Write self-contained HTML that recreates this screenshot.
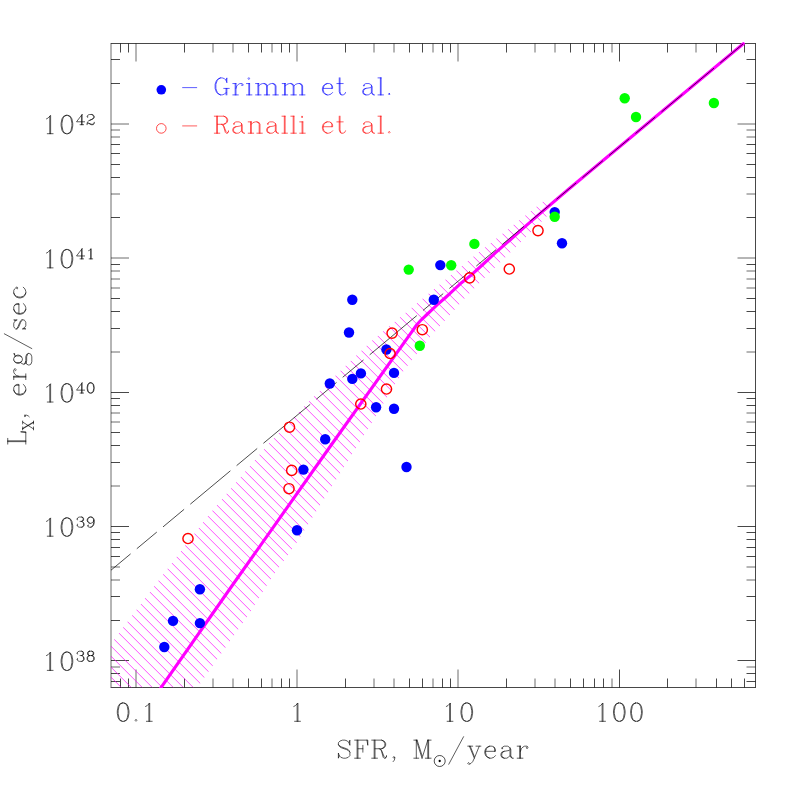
<!DOCTYPE html>
<html><head><meta charset="utf-8"><title>Lx-SFR relation</title>
<style>html,body{margin:0;padding:0;background:#fff;font-family:"Liberation Serif",serif}svg{display:block}</style></head>
<body>
<svg width="797" height="797" viewBox="0 0 797 797">
<rect width="797" height="797" fill="#fff"/>
<defs><clipPath id="fr"><rect x="111.0" y="43.5" width="644.5" height="644.0"/></clipPath>
<clipPath id="fr2"><rect x="111.0" y="0" width="644.5" height="687.9"/></clipPath>
<clipPath id="hz"><polygon points="111,643.8 114.4,639.3 149.8,592.1 207.5,516.5 269.1,443.2 310.1,400.3 351.3,360.2 372.5,340.3 467.9,261 543.4,201.3 549,206 546.6,216.4 521.5,241.5 485.1,277.2 464.7,298.3 430.4,336.7 417.3,353.3 403.8,370.6 395.5,383.4 372.2,421.9 340,473.4 312.6,517.2 296.6,542.8 271.1,578.6 247,617 200.2,683.5 197,687.5 111,687.5"/></clipPath></defs>
<path d="M110.7 43.5 H755.86M110.7 687.5 H755.86M755.5 43.5 V687.5M120.5 43.5 v9 M120.5 687.5 v-9M128.5 43.5 v9 M128.5 687.5 v-9M184.5 43.5 v9 M184.5 687.5 v-9M248.5 43.5 v9 M248.5 687.5 v-9M261.5 43.5 v9 M261.5 687.5 v-9M281.5 43.5 v9 M281.5 687.5 v-9M289.5 43.5 v9 M289.5 687.5 v-9M345.5 43.5 v9 M345.5 687.5 v-9M409.5 43.5 v9 M409.5 687.5 v-9M422.5 43.5 v9 M422.5 687.5 v-9M442.5 43.5 v9 M442.5 687.5 v-9M450.5 43.5 v9 M450.5 687.5 v-9M506.5 43.5 v9 M506.5 687.5 v-9M570.5 43.5 v9 M570.5 687.5 v-9M583.5 43.5 v9 M583.5 687.5 v-9M594.5 43.5 v9 M594.5 687.5 v-9M603.5 43.5 v9 M603.5 687.5 v-9M619.5 43.5 v18 M619.5 687.5 v-18M667.5 43.5 v9 M667.5 687.5 v-9M716.5 43.5 v9 M716.5 687.5 v-9M731.5 43.5 v9 M731.5 687.5 v-9M744.5 43.5 v9 M744.5 687.5 v-9M111.0 681.5 h9 M755.5 681.5 h-9M111.0 673.5 h9 M755.5 673.5 h-9M111.0 660.5 h18 M755.5 660.5 h-18M111.0 620.5 h9 M755.5 620.5 h-9M111.0 596.5 h9 M755.5 596.5 h-9M111.0 556.5 h9 M755.5 556.5 h-9M111.0 547.5 h9 M755.5 547.5 h-9M111.0 539.5 h9 M755.5 539.5 h-9M111.0 532.5 h9 M755.5 532.5 h-9M111.0 526.5 h18 M755.5 526.5 h-18M111.0 462.5 h9 M755.5 462.5 h-9M111.0 445.5 h9 M755.5 445.5 h-9M111.0 432.5 h9 M755.5 432.5 h-9M111.0 405.5 h9 M755.5 405.5 h-9M111.0 398.5 h9 M755.5 398.5 h-9M111.0 392.5 h18 M755.5 392.5 h-18M111.0 328.5 h9 M755.5 328.5 h-9M111.0 311.5 h9 M755.5 311.5 h-9M111.0 298.5 h9 M755.5 298.5 h-9M111.0 264.5 h9 M755.5 264.5 h-9M111.0 217.5 h9 M755.5 217.5 h-9M111.0 177.5 h9 M755.5 177.5 h-9M111.0 164.5 h9 M755.5 164.5 h-9M111.0 153.5 h9 M755.5 153.5 h-9M111.0 144.5 h9 M755.5 144.5 h-9M111.0 83.5 h9 M755.5 83.5 h-9M111.0 59.5 h9 M755.5 59.5 h-9" stroke="#000" stroke-width="0.72" fill="none"/>
<path d="M111.0 43.5 V687.5M136 43.5 v18 M136 687.5 v-18M213 43.5 v9 M213 687.5 v-9M233 43.5 v9 M233 687.5 v-9M272 43.5 v9 M272 687.5 v-9M297 43.5 v18 M297 687.5 v-18M374 43.5 v9 M374 687.5 v-9M394 43.5 v9 M394 687.5 v-9M433 43.5 v9 M433 687.5 v-9M458 43.5 v18 M458 687.5 v-18M535 43.5 v9 M535 687.5 v-9M555 43.5 v9 M555 687.5 v-9M612 43.5 v9 M612 687.5 v-9M696 43.5 v9 M696 687.5 v-9M111.0 667 h9 M755.5 667 h-9M111.0 580 h9 M755.5 580 h-9M111.0 567 h9 M755.5 567 h-9M111.0 486 h9 M755.5 486 h-9M111.0 422 h9 M755.5 422 h-9M111.0 413 h9 M755.5 413 h-9M111.0 352 h9 M755.5 352 h-9M111.0 288 h9 M755.5 288 h-9M111.0 279 h9 M755.5 279 h-9M111.0 271 h9 M755.5 271 h-9M111.0 258 h18 M755.5 258 h-18M111.0 194 h9 M755.5 194 h-9M111.0 137 h9 M755.5 137 h-9M111.0 130 h9 M755.5 130 h-9M111.0 124 h18 M755.5 124 h-18" stroke="#000" stroke-width="0.58" fill="none"/>
<g clip-path="url(#fr)"><path clip-path="url(#hz)" d="M100 697.18 L560 1157.18M100 686.18 L560 1146.18M100 676.18 L560 1136.18M100 666.18 L560 1126.18M100 656.18 L560 1116.18M100 645.18 L560 1105.18M100 635.18 L560 1095.18M100 625.18 L560 1085.18M100 614.18 L560 1074.18M100 604.18 L560 1064.18M100 594.18 L560 1054.18M100 583.18 L560 1043.18M100 573.18 L560 1033.18M100 563.18 L560 1023.18M100 553.18 L560 1013.18M100 542.18 L560 1002.18M100 532.18 L560 992.18M100 522.18 L560 982.18M100 511.18 L560 971.18M100 501.18 L560 961.18M100 491.18 L560 951.18M100 480.18 L560 940.18M100 470.18 L560 930.18M100 460.18 L560 920.18M100 450.18 L560 910.18M100 439.18 L560 899.18M100 429.18 L560 889.18M100 419.18 L560 879.18M100 408.18 L560 868.18M100 398.18 L560 858.18M100 388.18 L560 848.18M100 377.18 L560 837.18M100 367.18 L560 827.18M100 357.18 L560 817.18M100 346.18 L560 806.18M100 336.18 L560 796.18M100 326.18 L560 786.18M100 316.18 L560 776.18M100 305.18 L560 765.18M100 295.18 L560 755.18M100 285.18 L560 745.18M100 274.18 L560 734.18M100 264.18 L560 724.18M100 254.18 L560 714.18M100 243.18 L560 703.18M100 233.18 L560 693.18M100 223.18 L560 683.18M100 213.18 L560 673.18M100 202.18 L560 662.18M100 192.18 L560 652.18M100 182.18 L560 642.18M100 171.18 L560 631.18M100 161.18 L560 621.18M100 151.18 L560 611.18M100 140.18 L560 600.18M100 130.18 L560 590.18M100 120.18 L560 580.18M100 110.18 L560 570.18M100 99.18 L560 559.18M100 89.18 L560 549.18M100 79.18 L560 539.18M100 68.18 L560 528.18M100 58.18 L560 518.18M100 48.18 L560 508.18M100 37.18 L560 497.18M100 27.18 L560 487.18M100 17.18 L560 477.18M100 7.18 L560 467.18M100 -3.82 L560 456.18M100 -13.82 L560 446.18M100 -23.82 L560 436.18M100 -34.82 L560 425.18M100 -44.82 L560 415.18M100 -54.82 L560 405.18M100 -65.82 L560 394.18M100 -75.82 L560 384.18M100 -85.82 L560 374.18M100 -95.82 L560 364.18M100 -106.82 L560 353.18M100 -116.82 L560 343.18M100 -126.82 L560 333.18M100 -137.82 L560 322.18M100 -147.82 L560 312.18M100 -157.82 L560 302.18M100 -168.82 L560 291.18M100 -178.82 L560 281.18M100 -188.82 L560 271.18M100 -198.82 L560 261.18M100 -209.82 L560 250.18M100 -219.82 L560 240.18M100 -229.82 L560 230.18M100 -240.82 L560 219.18M100 -250.82 L560 209.18M100 -260.82 L560 199.18M100 -271.82 L560 188.18M100 -281.82 L560 178.18M100 -291.82 L560 168.18M100 -301.82 L560 158.18M100 -312.82 L560 147.18" stroke="#ff00ff" stroke-opacity="0.68" stroke-width="1" fill="none"/></g>
<g clip-path="url(#fr2)"><polyline points="154.33,697.2 229.05,590 334.4,440.5 410.7,333.4 414.5,328 417,324.5 421.3,319.8 426.4,315 432.6,309.1 438.9,303.2 445,298 449,294.3 461.5,282.7 470.3,275.8 482.8,264.5 495,253.2 510,240 525,226.7 540,213.6 555,200.7 570,188.04 743.35,43.71" fill="none" stroke="#ff00ff" stroke-width="3.1" stroke-linejoin="round" stroke-linecap="round"/><path d="M111 570.2 L130.6 553.88M136.8 548.72 L156.8 532.07M163 526.91 L184.1 509.34M190.3 504.18 L230.4 470.79M236.6 465.63 L257.2 448.48M263.4 443.31 L310.2 404.35M316.4 399.19 L336.5 382.45M342.7 377.29 L363.5 359.97M369.7 354.81 L416.8 315.59M423 310.43 L443.2 293.61M449.4 288.45 L470.1 271.22M476.3 266.05 L496.1 249.57M502.3 244.41 L523.9 226.42M530.1 221.26 L550.3 204.44M556.5 199.28 L576.2 182.88M582.4 177.72 L602.9 160.65M609.1 155.48 L629.3 138.67M635.5 133.5 L655.3 117.02M661.5 111.86 L682.4 94.46M688.6 89.29 L714 68.14M720.2 62.98 L743.2 43.83" stroke="#000" stroke-width="0.7" fill="none"/></g>
<circle cx="164.3" cy="647" r="5.2" fill="#0000ff"/>
<circle cx="173" cy="620.9" r="5.2" fill="#0000ff"/>
<circle cx="199.9" cy="589.3" r="5.2" fill="#0000ff"/>
<circle cx="199.9" cy="623.1" r="5.2" fill="#0000ff"/>
<circle cx="297" cy="530.2" r="5.2" fill="#0000ff"/>
<circle cx="303.4" cy="469.6" r="5.2" fill="#0000ff"/>
<circle cx="325.2" cy="439.3" r="5.2" fill="#0000ff"/>
<circle cx="329.8" cy="383.5" r="5.2" fill="#0000ff"/>
<circle cx="349" cy="332.5" r="5.2" fill="#0000ff"/>
<circle cx="352.3" cy="299.7" r="5.2" fill="#0000ff"/>
<circle cx="352.3" cy="378.9" r="5.2" fill="#0000ff"/>
<circle cx="360.9" cy="373.4" r="5.2" fill="#0000ff"/>
<circle cx="376.1" cy="407.2" r="5.2" fill="#0000ff"/>
<circle cx="386.4" cy="349.5" r="5.2" fill="#0000ff"/>
<circle cx="394" cy="372.9" r="5.2" fill="#0000ff"/>
<circle cx="394" cy="408.7" r="5.2" fill="#0000ff"/>
<circle cx="406.5" cy="467" r="5.2" fill="#0000ff"/>
<circle cx="433.8" cy="299.7" r="5.2" fill="#0000ff"/>
<circle cx="440.3" cy="265.1" r="5.2" fill="#0000ff"/>
<circle cx="554.7" cy="212.1" r="5.2" fill="#0000ff"/>
<circle cx="562" cy="243.3" r="5.2" fill="#0000ff"/>
<circle cx="408.7" cy="269.6" r="5.2" fill="#00ff00"/>
<circle cx="419.8" cy="345.7" r="5.2" fill="#00ff00"/>
<circle cx="451.2" cy="265.3" r="5.2" fill="#00ff00"/>
<circle cx="474.4" cy="243.9" r="5.2" fill="#00ff00"/>
<circle cx="554.7" cy="216.8" r="5.2" fill="#00ff00"/>
<circle cx="624.7" cy="98.2" r="5.2" fill="#00ff00"/>
<circle cx="636" cy="117" r="5.2" fill="#00ff00"/>
<circle cx="713.9" cy="103" r="5.2" fill="#00ff00"/>
<circle cx="188" cy="538.5" r="5.1" fill="none" stroke="#ff0000" stroke-width="1.45"/>
<circle cx="289.5" cy="427.2" r="5.1" fill="none" stroke="#ff0000" stroke-width="1.45"/>
<circle cx="291.7" cy="470.4" r="5.1" fill="none" stroke="#ff0000" stroke-width="1.45"/>
<circle cx="289" cy="488.7" r="5.1" fill="none" stroke="#ff0000" stroke-width="1.45"/>
<circle cx="360.8" cy="404" r="5.1" fill="none" stroke="#ff0000" stroke-width="1.45"/>
<circle cx="386.5" cy="389" r="5.1" fill="none" stroke="#ff0000" stroke-width="1.45"/>
<circle cx="390.1" cy="353.5" r="5.1" fill="none" stroke="#ff0000" stroke-width="1.45"/>
<circle cx="392.1" cy="333.1" r="5.1" fill="none" stroke="#ff0000" stroke-width="1.45"/>
<circle cx="422.3" cy="329.7" r="5.1" fill="none" stroke="#ff0000" stroke-width="1.45"/>
<circle cx="469.6" cy="277.8" r="5.1" fill="none" stroke="#ff0000" stroke-width="1.45"/>
<circle cx="509.3" cy="269" r="5.1" fill="none" stroke="#ff0000" stroke-width="1.45"/>
<circle cx="538" cy="230.6" r="5.1" fill="none" stroke="#ff0000" stroke-width="1.45"/>
<path d="M122.3 702.99 119.81 703.86 118.15 706.48 117.32 710.84 117.32 713.45 118.15 717.81 119.81 720.43 122.3 721.3 123.96 721.3 126.45 720.43 128.11 717.81 128.94 713.45 128.94 710.84 128.11 706.48 126.45 703.86 123.96 702.99 122.3 702.99M122.3 702.99 120.64 703.86 119.81 704.73 118.98 706.48 118.15 710.84 118.15 713.45 118.98 717.81 119.81 719.56 120.64 720.43 122.3 721.3M123.96 721.3 125.62 720.43 126.45 719.56 127.28 717.81 128.11 713.45 128.11 710.84 127.28 706.48 126.45 704.73 125.62 703.86 123.96 702.99M136 719.56 135.17 720.43 136 721.3 136.83 720.43 136 719.56M145.55 706.48 147.21 705.6 149.7 702.99 149.7 721.3M148.87 703.86 148.87 721.3M146.38 721.3 152.19 721.3M293.78 706.48 295.44 705.6 297.93 702.99 297.93 721.3M297.1 703.86 297.1 721.3M294.61 721.3 300.42 721.3M446.3 706.48 447.96 705.6 450.45 702.99 450.45 721.3M449.62 703.86 449.62 721.3M447.13 721.3 452.94 721.3M465.95 702.99 463.46 703.86 461.8 706.48 460.97 710.84 460.97 713.45 461.8 717.81 463.46 720.43 465.95 721.3 467.61 721.3 470.1 720.43 471.76 717.81 472.59 713.45 472.59 710.84 471.76 706.48 470.1 703.86 467.61 702.99 465.95 702.99M465.95 702.99 464.29 703.86 463.46 704.73 462.63 706.48 461.8 710.84 461.8 713.45 462.63 717.81 463.46 719.56 464.29 720.43 465.95 721.3M467.61 721.3 469.27 720.43 470.1 719.56 470.93 717.81 471.76 713.45 471.76 710.84 470.93 706.48 470.1 704.73 469.27 703.86 467.61 702.99M598.82 706.48 600.48 705.6 602.97 702.99 602.97 721.3M602.14 703.86 602.14 721.3M599.65 721.3 605.46 721.3M618.47 702.99 615.98 703.86 614.32 706.48 613.49 710.84 613.49 713.45 614.32 717.81 615.98 720.43 618.47 721.3 620.13 721.3 622.62 720.43 624.28 717.81 625.11 713.45 625.11 710.84 624.28 706.48 622.62 703.86 620.13 702.99 618.47 702.99M618.47 702.99 616.81 703.86 615.98 704.73 615.15 706.48 614.32 710.84 614.32 713.45 615.15 717.81 615.98 719.56 616.81 720.43 618.47 721.3M620.13 721.3 621.79 720.43 622.62 719.56 623.45 717.81 624.28 713.45 624.28 710.84 623.45 706.48 622.62 704.73 621.79 703.86 620.13 702.99M635.63 702.99 633.14 703.86 631.48 706.48 630.65 710.84 630.65 713.45 631.48 717.81 633.14 720.43 635.63 721.3 637.29 721.3 639.78 720.43 641.44 717.81 642.27 713.45 642.27 710.84 641.44 706.48 639.78 703.86 637.29 702.99 635.63 702.99M635.63 702.99 633.97 703.86 633.14 704.73 632.31 706.48 631.48 710.84 631.48 713.45 632.31 717.81 633.14 719.56 633.97 720.43 635.63 721.3M637.29 721.3 638.95 720.43 639.78 719.56 640.61 717.81 641.44 713.45 641.44 710.84 640.61 706.48 639.78 704.73 638.95 703.86 637.29 702.99M46.45 655.56 48.12 654.68 50.61 652.07 50.61 670.38M49.77 652.94 49.77 670.38M47.28 670.38 53.09 670.38M66.11 652.07 63.62 652.94 61.95 655.56 61.12 659.92 61.12 662.53 61.95 666.89 63.62 669.51 66.11 670.38 67.77 670.38 70.25 669.51 71.92 666.89 72.75 662.53 72.75 659.92 71.92 655.56 70.25 652.94 67.77 652.07 66.11 652.07M66.11 652.07 64.45 652.94 63.62 653.81 62.79 655.56 61.95 659.92 61.95 662.53 62.79 666.89 63.62 668.64 64.45 669.51 66.11 670.38M67.77 670.38 69.42 669.51 70.25 668.64 71.09 666.89 71.92 662.53 71.92 659.92 71.09 655.56 70.25 653.81 69.42 652.94 67.77 652.07M77.53 653.13 78.04 653.62 77.53 654.11 77.03 653.62 77.03 653.13 77.53 652.16 78.04 651.68 79.56 651.2 81.58 651.2 83.09 651.68 83.59 652.65 83.59 654.11 83.09 655.08 81.58 655.56 80.06 655.56M81.58 651.2 82.59 651.68 83.09 652.65 83.09 654.11 82.59 655.08 81.58 655.56M81.58 655.56 82.59 656.04 83.59 657.01 84.1 657.99 84.1 659.44 83.59 660.41 83.09 660.89 81.58 661.38 79.56 661.38 78.04 660.89 77.53 660.41 77.03 659.44 77.03 658.96 77.53 658.47 78.04 658.96 77.53 659.44M83.09 656.53 83.59 657.99 83.59 659.44 83.09 660.41 82.59 660.89 81.58 661.38M89.66 651.2 88.14 651.68 87.63 652.65 87.63 654.11 88.14 655.08 89.66 655.56 91.67 655.56 93.19 655.08 93.69 654.11 93.69 652.65 93.19 651.68 91.67 651.2 89.66 651.2M89.66 651.2 88.64 651.68 88.14 652.65 88.14 654.11 88.64 655.08 89.66 655.56M91.67 655.56 92.69 655.08 93.19 654.11 93.19 652.65 92.69 651.68 91.67 651.2M89.66 655.56 88.14 656.04 87.63 656.53 87.13 657.5 87.13 659.44 87.63 660.41 88.14 660.89 89.66 661.38 91.67 661.38 93.19 660.89 93.69 660.41 94.2 659.44 94.2 657.5 93.69 656.53 93.19 656.04 91.67 655.56M89.66 655.56 88.64 656.04 88.14 656.53 87.63 657.5 87.63 659.44 88.14 660.41 88.64 660.89 89.66 661.38M91.67 661.38 92.69 660.89 93.19 660.41 93.69 659.44 93.69 657.5 93.19 656.53 92.69 656.04 91.67 655.56M46.45 521.39 48.12 520.51 50.61 517.9 50.61 536.21M49.77 518.77 49.77 536.21M47.28 536.21 53.09 536.21M66.11 517.9 63.62 518.77 61.95 521.39 61.12 525.75 61.12 528.36 61.95 532.72 63.62 535.34 66.11 536.21 67.77 536.21 70.25 535.34 71.92 532.72 72.75 528.36 72.75 525.75 71.92 521.39 70.25 518.77 67.77 517.9 66.11 517.9M66.11 517.9 64.45 518.77 63.62 519.64 62.79 521.39 61.95 525.75 61.95 528.36 62.79 532.72 63.62 534.47 64.45 535.34 66.11 536.21M67.77 536.21 69.42 535.34 70.25 534.47 71.09 532.72 71.92 528.36 71.92 525.75 71.09 521.39 70.25 519.64 69.42 518.77 67.77 517.9M77.53 518.97 78.04 519.45 77.53 519.94 77.03 519.45 77.03 518.97 77.53 518 78.04 517.51 79.56 517.03 81.58 517.03 83.09 517.51 83.59 518.48 83.59 519.94 83.09 520.91 81.58 521.39 80.06 521.39M81.58 517.03 82.59 517.51 83.09 518.48 83.09 519.94 82.59 520.91 81.58 521.39M81.58 521.39 82.59 521.88 83.59 522.85 84.1 523.82 84.1 525.27 83.59 526.24 83.09 526.73 81.58 527.21 79.56 527.21 78.04 526.73 77.53 526.24 77.03 525.27 77.03 524.79 77.53 524.3 78.04 524.79 77.53 525.27M83.09 522.36 83.59 523.82 83.59 525.27 83.09 526.24 82.59 526.73 81.58 527.21M93.69 520.42 93.19 521.88 92.18 522.85 90.66 523.33 90.16 523.33 88.64 522.85 87.63 521.88 87.13 520.42 87.13 519.94 87.63 518.48 88.64 517.51 90.16 517.03 91.17 517.03 92.69 517.51 93.69 518.48 94.2 519.94 94.2 522.85 93.69 524.79 93.19 525.75 92.18 526.73 90.66 527.21 89.15 527.21 88.14 526.73 87.63 525.75 87.63 525.27 88.14 524.79 88.64 525.27 88.14 525.75M90.16 523.33 89.15 522.85 88.14 521.88 87.63 520.42 87.63 519.94 88.14 518.48 89.15 517.51 90.16 517.03M91.17 517.03 92.18 517.51 93.19 518.48 93.69 519.94 93.69 522.85 93.19 524.79 92.69 525.75 91.67 526.73 90.66 527.21M46.45 387.22 48.12 386.34 50.61 383.73 50.61 402.04M49.77 384.6 49.77 402.04M47.28 402.04 53.09 402.04M66.11 383.73 63.62 384.6 61.95 387.22 61.12 391.58 61.12 394.19 61.95 398.55 63.62 401.17 66.11 402.04 67.77 402.04 70.25 401.17 71.92 398.55 72.75 394.19 72.75 391.58 71.92 387.22 70.25 384.6 67.77 383.73 66.11 383.73M66.11 383.73 64.45 384.6 63.62 385.47 62.79 387.22 61.95 391.58 61.95 394.19 62.79 398.55 63.62 400.3 64.45 401.17 66.11 402.04M67.77 402.04 69.42 401.17 70.25 400.3 71.09 398.55 71.92 394.19 71.92 391.58 71.09 387.22 70.25 385.47 69.42 384.6 67.77 383.73M81.58 383.82 81.58 393.04M82.08 382.85 82.08 393.04M82.08 382.85 76.53 390.13 84.61 390.13M80.06 393.04 83.59 393.04M90.16 382.85 88.64 383.34 87.63 384.79 87.13 387.22 87.13 388.67 87.63 391.1 88.64 392.55 90.16 393.04 91.17 393.04 92.69 392.55 93.69 391.1 94.2 388.67 94.2 387.22 93.69 384.79 92.69 383.34 91.17 382.85 90.16 382.85M90.16 382.85 89.15 383.34 88.64 383.82 88.14 384.79 87.63 387.22 87.63 388.67 88.14 391.1 88.64 392.07 89.15 392.55 90.16 393.04M91.17 393.04 92.18 392.55 92.69 392.07 93.19 391.1 93.69 388.67 93.69 387.22 93.19 384.79 92.69 383.82 92.18 383.34 91.17 382.85M46.45 253.05 48.12 252.17 50.61 249.56 50.61 267.87M49.77 250.43 49.77 267.87M47.28 267.87 53.09 267.87M66.11 249.56 63.62 250.43 61.95 253.05 61.12 257.41 61.12 260.02 61.95 264.38 63.62 267 66.11 267.87 67.77 267.87 70.25 267 71.92 264.38 72.75 260.02 72.75 257.41 71.92 253.05 70.25 250.43 67.77 249.56 66.11 249.56M66.11 249.56 64.45 250.43 63.62 251.3 62.79 253.05 61.95 257.41 61.95 260.02 62.79 264.38 63.62 266.13 64.45 267 66.11 267.87M67.77 267.87 69.42 267 70.25 266.13 71.09 264.38 71.92 260.02 71.92 257.41 71.09 253.05 70.25 251.3 69.42 250.43 67.77 249.56M81.58 249.65 81.58 258.87M82.08 248.68 82.08 258.87M82.08 248.68 76.53 255.96 84.61 255.96M80.06 258.87 83.59 258.87M88.64 250.62 89.66 250.14 91.17 248.68 91.17 258.87M90.66 249.17 90.66 258.87M89.15 258.87 92.69 258.87M46.45 118.88 48.12 118 50.61 115.39 50.61 133.7M49.77 116.26 49.77 133.7M47.28 133.7 53.09 133.7M66.11 115.39 63.62 116.26 61.95 118.88 61.12 123.24 61.12 125.85 61.95 130.21 63.62 132.83 66.11 133.7 67.77 133.7 70.25 132.83 71.92 130.21 72.75 125.85 72.75 123.24 71.92 118.88 70.25 116.26 67.77 115.39 66.11 115.39M66.11 115.39 64.45 116.26 63.62 117.13 62.79 118.88 61.95 123.24 61.95 125.85 62.79 130.21 63.62 131.96 64.45 132.83 66.11 133.7M67.77 133.7 69.42 132.83 70.25 131.96 71.09 130.21 71.92 125.85 71.92 123.24 71.09 118.88 70.25 117.13 69.42 116.26 67.77 115.39M81.58 115.48 81.58 124.7M82.08 114.51 82.08 124.7M82.08 114.51 76.53 121.79 84.61 121.79M80.06 124.7 83.59 124.7M87.63 116.45 88.14 116.94 87.63 117.42 87.13 116.94 87.13 116.45 87.63 115.48 88.14 115 89.66 114.51 91.67 114.51 93.19 115 93.69 115.48 94.2 116.45 94.2 117.42 93.69 118.39 92.18 119.36 89.66 120.33 88.64 120.82 87.63 121.79 87.13 123.24 87.13 124.7M91.67 114.51 92.69 115 93.19 115.48 93.69 116.45 93.69 117.42 93.19 118.39 91.67 119.36 89.66 120.33M87.13 123.73 87.63 123.24 88.64 123.24 91.17 124.21 92.69 124.21 93.69 123.73 94.2 123.24M88.64 123.24 91.17 124.7 93.19 124.7 93.69 124.21 94.2 123.24 94.2 122.27M349.06 742.72 349.88 740.14 349.88 745.3 349.06 742.72 347.41 741 344.95 740.14 342.49 740.14 340.03 741 338.38 742.72 338.38 744.44 339.2 746.16 340.03 747.02 341.67 747.88 346.59 749.6 348.24 750.46 349.88 752.18M338.38 744.44 340.03 746.16 341.67 747.02 346.59 748.74 348.24 749.6 349.06 750.46 349.88 752.18 349.88 755.62 348.24 757.34 345.77 758.2 343.31 758.2 340.85 757.34 339.2 755.62 338.38 753.04 338.38 758.2 339.2 755.62M357.12 740.14 357.12 758.2M357.94 740.14 357.94 758.2M362.86 745.3 362.86 752.18M354.65 740.14 367.79 740.14 367.79 745.3 366.97 740.14M357.94 748.74 362.86 748.74M354.65 758.2 360.4 758.2M374.18 740.14 374.18 758.2M375 740.14 375 758.2M371.71 740.14 381.57 740.14 384.03 741 384.85 741.86 385.67 743.58 385.67 745.3 384.85 747.02 384.03 747.88 381.57 748.74 375 748.74M381.57 740.14 383.21 741 384.03 741.86 384.85 743.58 384.85 745.3 384.03 747.02 383.21 747.88 381.57 748.74M371.71 758.2 377.46 758.2M379.1 748.74 380.75 749.6 381.57 750.46 384.03 756.48 384.85 757.34 385.67 757.34 386.49 756.48M380.75 749.6 381.57 751.32 383.21 757.34 384.03 758.2 385.67 758.2 386.49 756.48 386.49 755.62M394.72 757.34 393.9 758.2 393.08 757.34 393.9 756.48 394.72 757.34 394.72 759.06 393.9 760.78 393.08 761.64M416.3 740.14 416.3 758.2M417.12 740.14 422.05 755.62M416.3 740.14 422.05 758.2M427.8 740.14 422.05 758.2M427.8 740.14 427.8 758.2M428.62 740.14 428.62 758.2M413.84 740.14 417.12 740.14M427.8 740.14 431.08 740.14M413.84 758.2 418.77 758.2M425.33 758.2 431.08 758.2M463.57 736.7 448.79 764.22M469.4 746.16 474.33 758.2M470.23 746.16 474.33 756.48M479.26 746.16 474.33 758.2 472.69 761.64 471.05 763.36 469.4 764.22 468.58 764.22 467.76 763.36 468.58 762.5 469.4 763.36M467.76 746.16 472.69 746.16M475.97 746.16 480.9 746.16M485.61 751.32 495.46 751.32 495.46 749.6 494.64 747.88 493.82 747.02 492.18 746.16 489.72 746.16 487.25 747.02 485.61 748.74 484.79 751.32 484.79 753.04 485.61 755.62 487.25 757.34 489.72 758.2 491.36 758.2 493.82 757.34 495.46 755.62M494.64 751.32 494.64 748.74 493.82 747.02M489.72 746.16 488.07 747.02 486.43 748.74 485.61 751.32 485.61 753.04 486.43 755.62 488.07 757.34 489.72 758.2M502.61 747.88 502.61 748.74 501.79 748.74 501.79 747.88 502.61 747.02 504.25 746.16 507.53 746.16 509.18 747.02 510 747.88 510.82 749.6 510.82 755.62 511.64 757.34 512.46 758.2M510 747.88 510 755.62 510.82 757.34 512.46 758.2 513.28 758.2M510 749.6 509.18 750.46 504.25 751.32 501.79 752.18 500.97 753.9 500.97 755.62 501.79 757.34 504.25 758.2 506.71 758.2 508.35 757.34 510 755.62M504.25 751.32 502.61 752.18 501.79 753.9 501.79 755.62 502.61 757.34 504.25 758.2M519.67 746.16 519.67 758.2M520.49 746.16 520.49 758.2M520.49 751.32 521.31 748.74 522.95 747.02 524.59 746.16 527.06 746.16 527.88 747.02 527.88 747.88 527.06 748.74 526.24 747.88 527.06 747.02M517.2 746.16 520.49 746.16M517.2 758.2 522.95 758.2M7.74 441.64 25.8 441.64M7.74 440.82 25.8 440.82M7.74 444.11 7.74 438.36M25.8 444.11 25.8 431.79 20.64 431.79 25.8 432.61M22.66 428.91 33.5 422.5M22.66 428.42 33.5 422.01M22.66 422.01 33.5 428.91M22.66 429.89 22.66 426.94M22.66 423.98 22.66 421.03M33.5 429.89 33.5 426.94M33.5 423.98 33.5 421.03M24.94 415.18 25.8 416 24.94 416.82 24.08 416 24.94 415.18 26.66 415.18 28.38 416 29.24 416.82M18.92 394.27 18.92 384.41 17.2 384.41 15.48 385.24 14.62 386.06 13.76 387.7 13.76 390.16 14.62 392.62 16.34 394.27 18.92 395.09 20.64 395.09 23.22 394.27 24.94 392.62 25.8 390.16 25.8 388.52 24.94 386.06 23.22 384.41M18.92 385.24 16.34 385.24 14.62 386.06M13.76 390.16 14.62 391.8 16.34 393.44 18.92 394.27 20.64 394.27 23.22 393.44 24.94 391.8 25.8 390.16M13.76 377.14 25.8 377.14M13.76 376.32 25.8 376.32M18.92 376.32 16.34 375.5 14.62 373.86 13.76 372.22 13.76 369.75 14.62 368.93 15.48 368.93 16.34 369.75 15.48 370.58 14.62 369.75M13.76 379.61 13.76 376.32M25.8 379.61 25.8 373.86M13.76 360.06 14.62 361.7 15.48 362.52 17.2 363.35 18.92 363.35 20.64 362.52 21.5 361.7 22.36 360.06 22.36 358.42 21.5 356.78 20.64 355.96 18.92 355.13 17.2 355.13 15.48 355.96 14.62 356.78 13.76 358.42 13.76 360.06M14.62 361.7 16.34 362.52 19.78 362.52 21.5 361.7M21.5 356.78 19.78 355.96 16.34 355.96 14.62 356.78M15.48 355.96 14.62 355.13 13.76 353.49 14.62 353.49 14.62 355.13M20.64 362.52 21.5 363.35 23.22 364.17 24.08 364.17 25.8 363.35 26.66 360.88 26.66 356.78 27.52 354.31 28.38 353.49M24.08 364.17 24.94 363.35 25.8 360.88 25.8 356.78 26.66 354.31 28.38 353.49 29.24 353.49 30.96 354.31 31.82 356.78 31.82 361.7 30.96 364.17 29.24 364.99 28.38 364.99 26.66 364.17 25.8 361.7M4.3 333.79 31.82 348.57M15.48 320.74 13.76 319.91 17.2 319.91 15.48 320.74 14.62 321.56 13.76 323.2 13.76 326.48 14.62 328.12 15.48 328.95 17.2 328.95 18.06 328.12 18.92 326.48 20.64 322.38 21.5 320.74 22.36 319.91M16.34 328.95 17.2 328.12 18.06 326.48 19.78 322.38 20.64 320.74 21.5 319.91 24.08 319.91 24.94 320.74 25.8 322.38 25.8 325.66 24.94 327.3 24.08 328.12 22.36 328.95 25.8 328.95 24.08 328.12M18.92 313.43 18.92 303.57 17.2 303.57 15.48 304.39 14.62 305.22 13.76 306.86 13.76 309.32 14.62 311.78 16.34 313.43 18.92 314.25 20.64 314.25 23.22 313.43 24.94 311.78 25.8 309.32 25.8 307.68 24.94 305.22 23.22 303.57M18.92 304.39 16.34 304.39 14.62 305.22M13.76 309.32 14.62 310.96 16.34 312.61 18.92 313.43 20.64 313.43 23.22 312.61 24.94 310.96 25.8 309.32M16.34 288.06 17.2 288.88 18.06 288.06 17.2 287.23 16.34 287.23 14.62 288.88 13.76 290.52 13.76 292.98 14.62 295.44 16.34 297.09 18.92 297.91 20.64 297.91 23.22 297.09 24.94 295.44 25.8 292.98 25.8 291.34 24.94 288.88 23.22 287.23M13.76 292.98 14.62 294.62 16.34 296.26 18.92 297.09 20.64 297.09 23.22 296.26 24.94 294.62 25.8 292.98" stroke="#000" stroke-width="0.64" fill="none" stroke-linecap="round" stroke-linejoin="round"/>
<circle cx="439.7" cy="761" r="5.5" fill="none" stroke="#000" stroke-width="0.7"/><circle cx="439.7" cy="761" r="1.15" fill="#000"/>
<path d="M182.6 87.61 196.73 87.61M226.09 80.32 226.87 82.75 226.87 77.89 226.09 80.32 224.52 78.7 222.16 77.89 220.59 77.89 218.24 78.7 216.67 80.32 215.88 81.94 215.1 84.37 215.1 88.42 215.88 90.85 216.67 92.47 218.24 94.09 220.59 94.9 222.16 94.9 224.52 94.09 226.09 92.47M220.59 77.89 219.02 78.7 217.45 80.32 216.67 81.94 215.88 84.37 215.88 88.42 216.67 90.85 217.45 92.47 219.02 94.09 220.59 94.9M226.09 88.42 226.09 94.9M226.87 88.42 226.87 94.9M223.73 88.42 229.23 88.42M235.18 83.56 235.18 94.9M235.97 83.56 235.97 94.9M235.97 88.42 236.75 85.99 238.32 84.37 239.89 83.56 242.25 83.56 243.03 84.37 243.03 85.18 242.25 85.99 241.46 85.18 242.25 84.37M232.83 83.56 235.97 83.56M232.83 94.9 238.32 94.9M248.81 77.89 248.03 78.7 248.81 79.51 249.6 78.7 248.81 77.89M248.81 83.56 248.81 94.9M249.6 83.56 249.6 94.9M246.46 83.56 249.6 83.56M246.46 94.9 251.95 94.9M257.93 83.56 257.93 94.9M258.72 83.56 258.72 94.9M258.72 85.99 260.29 84.37 262.64 83.56 264.21 83.56 266.57 84.37 267.35 85.99 267.35 94.9M264.21 83.56 265.78 84.37 266.57 85.99 266.57 94.9M267.35 85.99 268.92 84.37 271.28 83.56 272.85 83.56 275.2 84.37 275.99 85.99 275.99 94.9M272.85 83.56 274.42 84.37 275.2 85.99 275.2 94.9M255.58 83.56 258.72 83.56M255.58 94.9 261.07 94.9M264.21 94.9 269.71 94.9M272.85 94.9 278.34 94.9M284.56 83.56 284.56 94.9M285.35 83.56 285.35 94.9M285.35 85.99 286.92 84.37 289.28 83.56 290.85 83.56 293.2 84.37 293.99 85.99 293.99 94.9M290.85 83.56 292.42 84.37 293.2 85.99 293.2 94.9M293.99 85.99 295.56 84.37 297.91 83.56 299.48 83.56 301.84 84.37 302.62 85.99 302.62 94.9M299.48 83.56 301.05 84.37 301.84 85.99 301.84 94.9M282.21 83.56 285.35 83.56M282.21 94.9 287.71 94.9M290.85 94.9 296.34 94.9M299.48 94.9 304.98 94.9M323.19 88.42 332.61 88.42 332.61 86.8 331.83 85.18 331.04 84.37 329.47 83.56 327.12 83.56 324.76 84.37 323.19 85.99 322.41 88.42 322.41 90.04 323.19 92.47 324.76 94.09 327.12 94.9 328.69 94.9 331.04 94.09 332.61 92.47M331.83 88.42 331.83 85.99 331.04 84.37M327.12 83.56 325.55 84.37 323.98 85.99 323.19 88.42 323.19 90.04 323.98 92.47 325.55 94.09 327.12 94.9M339.24 77.89 339.24 91.66 340.03 94.09 341.6 94.9 343.17 94.9 344.74 94.09 345.52 92.47M340.03 77.89 340.03 91.66 340.81 94.09 341.6 94.9M336.89 83.56 343.17 83.56M364.3 85.18 364.3 85.99 363.52 85.99 363.52 85.18 364.3 84.37 365.87 83.56 369.01 83.56 370.58 84.37 371.37 85.18 372.15 86.8 372.15 92.47 372.94 94.09 373.72 94.9M371.37 85.18 371.37 92.47 372.15 94.09 373.72 94.9 374.51 94.9M371.37 86.8 370.58 87.61 365.87 88.42 363.52 89.23 362.73 90.85 362.73 92.47 363.52 94.09 365.87 94.9 368.23 94.9 369.8 94.09 371.37 92.47M365.87 88.42 364.3 89.23 363.52 90.85 363.52 92.47 364.3 94.09 365.87 94.9M380.36 77.89 380.36 94.9M381.14 77.89 381.14 94.9M378 77.89 381.14 77.89M378 94.9 383.5 94.9M389.23 93.28 388.45 94.09 389.23 94.9 390.02 94.09 389.23 93.28" stroke="#0000ff" stroke-width="0.64" fill="none" stroke-linecap="round" stroke-linejoin="round"/>
<path d="M182.6 125.91 196.73 125.91M216.67 116.19 216.67 133.2M217.45 116.19 217.45 133.2M214.31 116.19 223.73 116.19 226.09 117 226.87 117.81 227.66 119.43 227.66 121.05 226.87 122.67 226.09 123.48 223.73 124.29 217.45 124.29M223.73 116.19 225.3 117 226.09 117.81 226.87 119.43 226.87 121.05 226.09 122.67 225.3 123.48 223.73 124.29M214.31 133.2 219.81 133.2M221.38 124.29 222.95 125.1 223.73 125.91 226.09 131.58 226.87 132.39 227.66 132.39 228.44 131.58M222.95 125.1 223.73 126.72 225.3 132.39 226.09 133.2 227.66 133.2 228.44 131.58 228.44 130.77M234.38 123.48 234.38 124.29 233.59 124.29 233.59 123.48 234.38 122.67 235.95 121.86 239.09 121.86 240.66 122.67 241.44 123.48 242.23 125.1 242.23 130.77 243.01 132.39 243.8 133.2M241.44 123.48 241.44 130.77 242.23 132.39 243.8 133.2 244.58 133.2M241.44 125.1 240.66 125.91 235.95 126.72 233.59 127.53 232.81 129.15 232.81 130.77 233.59 132.39 235.95 133.2 238.3 133.2 239.87 132.39 241.44 130.77M235.95 126.72 234.38 127.53 233.59 129.15 233.59 130.77 234.38 132.39 235.95 133.2M250.56 121.86 250.56 133.2M251.35 121.86 251.35 133.2M251.35 124.29 252.92 122.67 255.27 121.86 256.84 121.86 259.2 122.67 259.98 124.29 259.98 133.2M256.84 121.86 258.41 122.67 259.2 124.29 259.2 133.2M248.21 121.86 251.35 121.86M248.21 133.2 253.7 133.2M256.84 133.2 262.34 133.2M268.27 123.48 268.27 124.29 267.49 124.29 267.49 123.48 268.27 122.67 269.84 121.86 272.98 121.86 274.55 122.67 275.34 123.48 276.12 125.1 276.12 130.77 276.91 132.39 277.69 133.2M275.34 123.48 275.34 130.77 276.12 132.39 277.69 133.2 278.48 133.2M275.34 125.1 274.55 125.91 269.84 126.72 267.49 127.53 266.7 129.15 266.7 130.77 267.49 132.39 269.84 133.2 272.2 133.2 273.77 132.39 275.34 130.77M269.84 126.72 268.27 127.53 267.49 129.15 267.49 130.77 268.27 132.39 269.84 133.2M284.32 116.19 284.32 133.2M285.11 116.19 285.11 133.2M281.97 116.19 285.11 116.19M281.97 133.2 287.46 133.2M293.2 116.19 293.2 133.2M293.99 116.19 293.99 133.2M290.85 116.19 293.99 116.19M290.85 133.2 296.34 133.2M302.08 116.19 301.29 117 302.08 117.81 302.86 117 302.08 116.19M302.08 121.86 302.08 133.2M302.86 121.86 302.86 133.2M299.72 121.86 302.86 121.86M299.72 133.2 305.22 133.2M323.19 126.72 332.61 126.72 332.61 125.1 331.83 123.48 331.04 122.67 329.47 121.86 327.12 121.86 324.76 122.67 323.19 124.29 322.41 126.72 322.41 128.34 323.19 130.77 324.76 132.39 327.12 133.2 328.69 133.2 331.04 132.39 332.61 130.77M331.83 126.72 331.83 124.29 331.04 122.67M327.12 121.86 325.55 122.67 323.98 124.29 323.19 126.72 323.19 128.34 323.98 130.77 325.55 132.39 327.12 133.2M339.24 116.19 339.24 129.96 340.03 132.39 341.6 133.2 343.17 133.2 344.74 132.39 345.52 130.77M340.03 116.19 340.03 129.96 340.81 132.39 341.6 133.2M336.89 121.86 343.17 121.86M364.3 123.48 364.3 124.29 363.52 124.29 363.52 123.48 364.3 122.67 365.87 121.86 369.01 121.86 370.58 122.67 371.37 123.48 372.15 125.1 372.15 130.77 372.94 132.39 373.72 133.2M371.37 123.48 371.37 130.77 372.15 132.39 373.72 133.2 374.51 133.2M371.37 125.1 370.58 125.91 365.87 126.72 363.52 127.53 362.73 129.15 362.73 130.77 363.52 132.39 365.87 133.2 368.23 133.2 369.8 132.39 371.37 130.77M365.87 126.72 364.3 127.53 363.52 129.15 363.52 130.77 364.3 132.39 365.87 133.2M380.36 116.19 380.36 133.2M381.14 116.19 381.14 133.2M378 116.19 381.14 116.19M378 133.2 383.5 133.2M389.23 131.58 388.45 132.39 389.23 133.2 390.02 132.39 389.23 131.58" stroke="#ff0000" stroke-width="0.64" fill="none" stroke-linecap="round" stroke-linejoin="round"/>
<circle cx="161.3" cy="89.8" r="4.8" fill="#0000ff"/>
<circle cx="161.3" cy="128.4" r="4.8" fill="none" stroke="#ff0000" stroke-width="0.7"/>
</svg>
</body></html>
